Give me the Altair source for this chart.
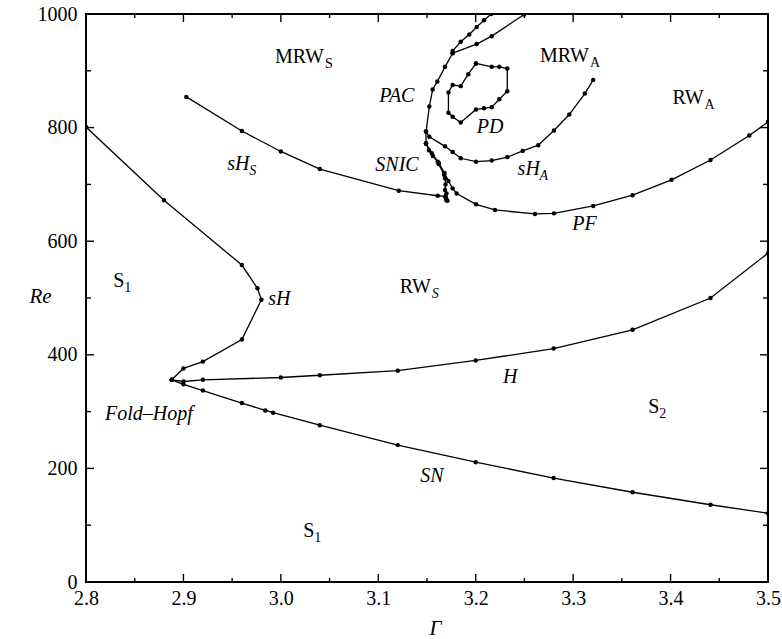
import altair as alt
import pandas as pd

# ---------------- curve data (Gamma, Re) ----------------
sH_x = [2.800, 2.880, 2.960, 2.976, 2.980, 2.960, 2.920, 2.900, 2.888]
sH_y = [801, 672, 558, 517, 497, 427, 388, 376, 356]

H_x = [2.888, 2.900, 2.920, 3.000, 3.040, 3.120, 3.200, 3.280, 3.361, 3.441, 3.500]
H_y = [356, 353, 356, 360, 364, 372, 390, 411, 444, 500, 579]

SN_x = [2.888, 2.900, 2.920, 2.960, 2.984, 2.992, 3.040, 3.120, 3.200, 3.280, 3.361, 3.441, 3.500]
SN_y = [356, 348, 337, 315, 302, 298, 276, 241, 211, 183, 158, 136, 121]

sHS_x = [2.903, 2.960, 3.000, 3.040, 3.121, 3.161, 3.169, 3.170, 3.171]
sHS_y = [854, 794, 758, 727, 689, 680, 679, 674, 671]

PAC_x = [3.216, 3.2085, 3.201, 3.1934, 3.1846, 3.1763, 3.1763, 3.1685, 3.1606, 3.1558, 3.1524, 3.149, 3.149]
PAC_y = [1000, 989, 977, 964, 951, 935, 931, 907, 881, 867, 837, 793, 772]

PACb_x = [3.1763, 3.201, 3.2164, 3.2496]
PACb_y = [931, 947, 961, 999]

SNIC_x = [3.149, 3.152, 3.156, 3.161, 3.162, 3.1675, 3.1685, 3.169, 3.1685, 3.170, 3.169, 3.170]
SNIC_y = [772, 760, 750, 740, 736, 717, 711, 700, 690, 684, 677, 672]

PF_x = [3.149, 3.155, 3.162, 3.168, 3.172, 3.1763, 3.1804, 3.2003, 3.2198, 3.2608, 3.2803,
        3.3206, 3.361, 3.401, 3.441, 3.4808, 3.500]
PF_y = [772, 755, 738, 720, 706, 693, 684, 665, 655, 648, 649, 662, 681, 708, 743, 786, 810]

sHA_x = [3.149, 3.1524, 3.1685, 3.1763, 3.1846, 3.2003, 3.2164, 3.2324, 3.2482, 3.2642,
         3.2803, 3.296, 3.312, 3.3206]
sHA_y = [793, 784, 767, 757, 746, 740, 742, 748, 759, 769, 795, 823, 860, 884]

PD_x = [3.2003, 3.2164, 3.2242, 3.2324, 3.2324, 3.2242, 3.2164, 3.2085, 3.2003, 3.1846,
        3.1763, 3.172, 3.172, 3.1763, 3.1846, 3.1924, 3.2003]
PD_y = [913, 907, 907, 904, 864, 850, 836, 834, 832, 809, 819, 826, 862, 875, 873, 894, 913]

# ---------------- labels ----------------
lab_text = ["MRW", "MRW", "RW", "RW", "sH", "sH", "S", "S", "S",
            "PAC", "PD", "SNIC", "PF", "sH", "Fold\u2013Hopf", "H", "SN"]
lab_sub = ["S", "A", "A", "S", "S", "A", "1", "1", "2",
           "", "", "", "", "", "", "", ""]
lab_italic = [False, False, False, False, True, True, False, False, False,
              True, True, True, True, True, True, True, True]
lab_sub_italic = [False, False, False, True, True, True, False, False, False,
                  False, False, False, False, False, False, False, False]
lab_x = [2.994, 3.266, 3.402, 3.122, 2.945, 3.243, 2.828, 3.023, 3.377,
         3.101, 3.201, 3.097, 3.299, 2.987, 2.8195, 3.228, 3.143]
lab_y = [914, 915, 842, 509, 725, 717, 519, 79, 298,
         845, 790, 724, 620, 488, 285, 350, 176]

# ---------------- ticks ----------------
x_major = [2.8, 2.9, 3.0, 3.1, 3.2, 3.3, 3.4, 3.5]
x_minor = [2.85, 2.95, 3.05, 3.15, 3.25, 3.35, 3.45]
y_major = [0, 200, 400, 600, 800, 1000]
y_minor = [100, 300, 500, 700, 900]

curves = {
    "sH": (sH_x, sH_y), "H": (H_x, H_y), "SN": (SN_x, SN_y), "sHS": (sHS_x, sHS_y),
    "PAC": (PAC_x, PAC_y), "PACb": (PACb_x, PACb_y), "SNIC": (SNIC_x, SNIC_y),
    "PF": (PF_x, PF_y), "sHA": (sHA_x, sHA_y), "PD": (PD_x, PD_y),
}
rows = []
for name, (xs, ys) in curves.items():
    for i, (gx, ry) in enumerate(zip(xs, ys)):
        rows.append({"curve": name, "order": i, "G": gx, "Re": ry})
df = pd.DataFrame(rows)

labels = pd.DataFrame({"text": lab_text, "sub": lab_sub, "it": lab_italic,
                       "subit": lab_sub_italic, "G": lab_x, "Re": lab_y})

W, H = 682, 568
FONT = "Liberation Serif, Times New Roman, Times, serif"
xscale = alt.Scale(domain=[2.8, 3.5], nice=False, zero=False)
yscale = alt.Scale(domain=[0, 1000], nice=False)


def X():
    return alt.X("G:Q", scale=xscale, title="\u0393",
                 axis=alt.Axis(values=x_major, format=".1f", labelFlush=False,
                               ticks=False, domain=False, grid=False, labelPadding=6,
                               labelFont=FONT, labelFontSize=20, titleFont=FONT,
                               titleFontStyle="italic", titleX=349, titleY=46,
                               titleBaseline="middle", titleAlign="center"))


def Y():
    return alt.Y("Re:Q", scale=yscale, title="Re",
                 axis=alt.Axis(values=y_major, format="d", labelFlush=False, ticks=False,
                               domain=False, grid=False, labelPadding=9,
                               labelFont=FONT, labelFontSize=20, titleFont=FONT,
                               titleAngle=0, titleFontStyle="italic", titleX=-46,
                               titleY=282, titleBaseline="middle", titleAlign="center"))


lines = alt.Chart(df).mark_line(
    color="black", strokeWidth=1.3, clip=True,
    point=alt.OverlayMarkDef(filled=True, color="black", size=20, clip=True, opacity=1),
).encode(x=X(), y=Y(), detail="curve:N", order="order:Q")


def tick_layer(vals, axis, length, side):
    d = pd.DataFrame({"G": vals} if axis == "x" else {"Re": vals})
    m = alt.Chart(d).mark_rule(color="black", strokeWidth=1.4)
    if axis == "x":
        if side == "bottom":
            return m.encode(x=X(), y=alt.value(H), y2=alt.value(H - length))
        return m.encode(x=X(), y=alt.value(0), y2=alt.value(length))
    if side == "left":
        return m.encode(y=Y(), x=alt.value(0), x2=alt.value(length))
    return m.encode(y=Y(), x=alt.value(W), x2=alt.value(W - length))


ticks = [
    tick_layer(x_major, "x", 8, "bottom"), tick_layer(x_minor, "x", 4, "bottom"),
    tick_layer(x_major, "x", 8, "top"), tick_layer(x_minor, "x", 4, "top"),
    tick_layer(y_major, "y", 8, "left"), tick_layer(y_minor, "y", 5, "left"),
    tick_layer(y_major, "y", 8, "right"), tick_layer(y_minor, "y", 5, "right"),
]

base_up = alt.Chart(labels).transform_filter("!datum.it").mark_text(
    font=FONT, fontSize=20, align="left", baseline="alphabetic", color="black"
).encode(x=X(), y=Y(), text="text:N")
base_it = alt.Chart(labels).transform_filter("datum.it").mark_text(
    font=FONT, fontSize=20, fontStyle="italic", align="left", baseline="alphabetic", color="black"
).encode(x=X(), y=Y(), text="text:N")

sub_specs = [("MRW", False, 50), ("RW", False, 32), ("RW", True, 32),
             ("sH", True, 22), ("S", False, 11)]
subs = []
for btxt, sit, dx in sub_specs:
    cond = f"datum.text == '{btxt}' && datum.sub != '' && {'datum.subit' if sit else '!datum.subit'}"
    subs.append(
        alt.Chart(labels).transform_filter(cond).mark_text(
            font=FONT, fontSize=14, fontStyle="italic" if sit else "normal",
            align="left", baseline="alphabetic", dx=dx, dy=5, color="black"
        ).encode(x=X(), y=Y(), text="sub:N")
    )

chart = alt.layer(lines, *ticks, base_up, base_it, *subs).properties(
    width=W, height=H,
    padding={"left": 86, "top": 14, "right": 14, "bottom": 57},
    autosize=alt.AutoSizeParams(type="none"),
    background="white",
).configure_view(stroke="black", strokeWidth=2).configure_axis(
    labelFont=FONT, labelFontSize=20, labelColor="black",
    titleFont=FONT, titleFontSize=21, titleFontWeight="normal", titleColor="black",
)

chart.save("out.html", embed_options={"renderer": "svg", "actions": False})
